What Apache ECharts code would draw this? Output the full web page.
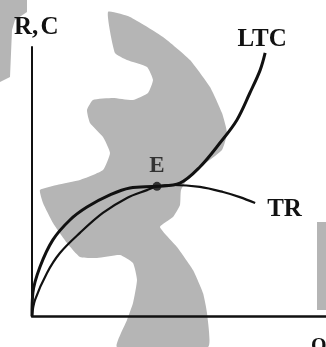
<!DOCTYPE html>
<html>
<head>
<meta charset="utf-8">
<style>
  html, body { margin: 0; padding: 0; background: #fff; }
  #chart { width: 326px; height: 347px; }
</style>
<script src="https://cdn.jsdelivr.net/npm/echarts@6/dist/echarts.min.js"></script>
</head>
<body>
<div id="chart"></div>
<script>
// 数据：长期总成本 LTC 与总收益 TR（读图估计，坐标范围 0..10）
var ltc_q = [0, 0.03, 0.27, 0.71, 1.29, 1.87, 2.65, 3.33, 4.25, 5.03, 5.71, 6.39, 6.97, 7.41, 7.76, 7.93];
var ltc_v = [0, 0.86, 1.82, 2.83, 3.57, 4.05, 4.50, 4.76, 4.82, 4.94, 5.54, 6.43, 7.29, 8.29, 9.14, 9.78];
var tr_q = [0, 0.10, 0.51, 0.95, 1.63, 2.41, 3.23, 3.91, 4.25, 4.80, 5.71, 6.50, 7.07, 7.59];
var tr_v = [0, 0.59, 1.60, 2.34, 3.09, 3.83, 4.39, 4.68, 4.82, 4.87, 4.80, 4.61, 4.42, 4.20];
var point_e = [4.25, 4.82];

var font = '"Liberation Serif", "DejaVu Serif", serif';

function pairs(qs, vs) {
    var out = [];
    for (var i = 0; i < qs.length; i++) {
        out.push([qs[i], vs[i]]);
    }
    return out;
}

// 背景水印（灰色装饰图形）
var gray = '#b5b5b5';
var mark_main = [
    [108,12],[130,17],[163,37],[190,60],[210,87],[222,113],[227,133],[222,150],[207,162],
    [190,175],[181,190],[180,205],[173,217],[160,227],[177,247],[193,270],[203,293],
    [207,313],[208,347],[117,347],[127,320],[133,303],[137,280],[133,263],[120,255],
    [97,258],[80,257],[67,243],[53,223],[43,203],[40,190],[57,185],[80,180],[103,170],
    [110,153],[103,137],[90,123],[87,110],[93,100],[113,98],[133,100],[148,93],[153,80],
    [147,67],[127,60],[115,53]
];
var mark_corner = [[0,0],[27,0],[27,12],[15,20],[12,30],[10,77],[0,82]];

var chart = echarts.init(document.getElementById('chart'));
var option = {
    animation: false,
    backgroundColor: '#fff',
    grid: { left: 32, right: 0, top: 47, bottom: 31 },
    xAxis: {
        type: 'value', min: 0, max: 10,
        axisLine: { show: true, onZero: false, lineStyle: { color: '#111', width: 2.5 } },
        axisTick: { show: false }, axisLabel: { show: false }, splitLine: { show: false }
    },
    yAxis: {
        type: 'value', min: 0, max: 10,
        axisLine: { show: true, onZero: false, lineStyle: { color: '#111', width: 2 } },
        axisTick: { show: false }, axisLabel: { show: false }, splitLine: { show: false }
    },
    graphic: [
        { type: 'polygon', z: -10, silent: true, shape: { points: mark_main, smooth: 0.15 }, style: { fill: gray } },
        { type: 'polygon', z: -10, silent: true, shape: { points: mark_corner }, style: { fill: gray } },
        { type: 'rect', z: -10, silent: true, shape: { x: 317, y: 222, width: 9, height: 88 }, style: { fill: gray } },
        { type: 'text', left: 14, top: 15, z: 10, style: { text: 'R,\u200AC', font: 'bold 25px ' + font, fill: '#111' } },
        { type: 'text', left: 311, top: 337, z: 10, style: { text: 'Q', font: 'bold 20px ' + font, fill: '#111' } }
    ],
    series: [
        {
            name: 'LTC', type: 'line', smooth: 0.35, symbol: 'none', clip: false,
            lineStyle: { color: '#111', width: 3 },
            endLabel: {
                show: true, formatter: 'LTC', distance: 0, offset: [-3, -1],
                align: 'center', verticalAlign: 'bottom',
                fontFamily: font, fontWeight: 'bold', fontSize: 25, color: '#111'
            },
            data: pairs(ltc_q, ltc_v)
        },
        {
            name: 'TR', type: 'line', smooth: 0.35, symbol: 'none', clip: false,
            lineStyle: { color: '#111', width: 2.2 },
            endLabel: {
                show: true, formatter: 'TR', distance: 12, offset: [0, 7],
                fontFamily: font, fontWeight: 'bold', fontSize: 25, color: '#111'
            },
            data: pairs(tr_q, tr_v)
        },
        {
            name: 'E', type: 'scatter', symbolSize: 9, z: 5,
            itemStyle: { color: '#111' },
            label: {
                show: true, formatter: 'E', position: 'top', distance: 4,
                fontFamily: font, fontWeight: 'bold', fontSize: 23, color: '#111'
            },
            data: [point_e]
        }
    ]
};
chart.setOption(option);
</script>
</body>
</html>
